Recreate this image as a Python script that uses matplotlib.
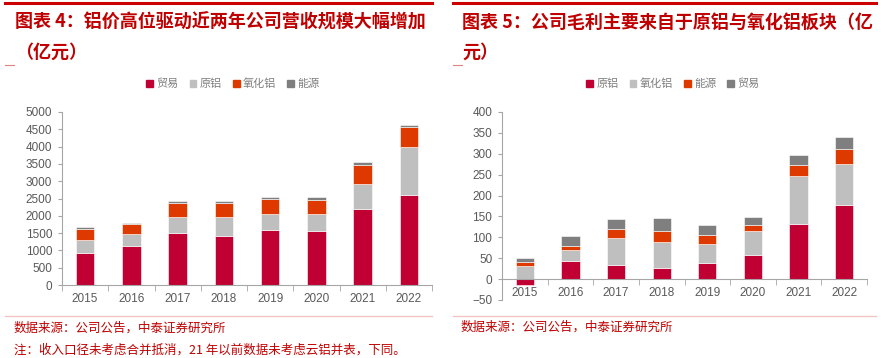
import numpy as np
import matplotlib
matplotlib.use("Agg")
import matplotlib.pyplot as plt
import matplotlib.patches as mpatches
from matplotlib.lines import Line2D

plt.rcParams['font.family'] = ['Noto Sans CJK SC', 'DejaVu Sans']

# --- data ---
years = ['2015', '2016', '2017', '2018', '2019', '2020', '2021', '2022']

# chart 4: revenue by segment (亿元)
rev_labels = ['贸易', '原铝', '氧化铝', '能源']
rev_trade = [936, 1139, 1506, 1429, 1593, 1554, 2210, 2597]
rev_alu = [367, 347, 473, 530, 463, 502, 705, 1380]
rev_alumina = [328, 271, 396, 416, 434, 415, 550, 579]
rev_energy = [49, 38, 57, 57, 58, 58, 87, 77]
rev_yticks = [0, 500, 1000, 1500, 2000, 2500, 3000, 3500, 4000, 4500, 5000]

# chart 5: gross profit by segment (亿元)
gp_labels = ['原铝', '氧化铝', '能源', '贸易']
gp_alu = [-13, 44, 33, 27, 39, 58, 133, 177]
gp_alumina = [31, 26, 66, 61, 46, 56, 113, 98]
gp_energy = [11, 10, 20, 26, 21, 16, 26, 36]
gp_trade = [8, 24, 24, 32, 24, 18, 26, 29]
gp_yticks = [-50, 0, 50, 100, 150, 200, 250, 300, 350, 400]

title_left = ['图表 4：铝价高位驱动近两年公司营收规模大幅增加', '（亿元）']
title_right = ['图表 5：公司毛利主要来自于原铝与氧化铝板块（亿', '元）']
source_txt = '数据来源：公司公告，中泰证券研究所'
note_txt = '注：收入口径未考虑合并抵消，21 年以前数据未考虑云铝并表，下同。'

RED = '#C00032'
GRAY = '#BFBFBF'
ORANGE = '#DE3A00'
DGRAY = '#7F7F7F'
TXT_RED = '#C00000'
TICK = '#595959'

W, H = 881, 358
fig = plt.figure(figsize=(W / 100, H / 100), dpi=100)


def px(x, y):
    return x / W, 1 - y / H


def style_axes(ax, yticks):
    for s in ['top', 'right']:
        ax.spines[s].set_visible(False)
    for s in ['left', 'bottom']:
        ax.spines[s].set_color('#A6A6A6')
        ax.spines[s].set_linewidth(0.8)
    ax.set_yticks(yticks)
    ax.set_xticks(range(len(years)))
    ax.set_xticklabels(years)
    ax.set_xticks(np.arange(-0.5, len(years), 1), minor=True)
    ax.tick_params(axis='x', which='major', length=0, pad=6)
    ax.tick_params(axis='x', which='minor', length=4, color='#A6A6A6', direction='out')
    ax.tick_params(axis='y', length=3, color='#A6A6A6', pad=4)
    ax.tick_params(labelcolor=TICK, labelsize=8.5)
    for lab in ax.get_xticklabels() + ax.get_yticklabels():
        lab.set_family('Liberation Sans')
    ax.set_xlim(-0.5, len(years) - 0.5)


x = np.arange(len(years))
bw = 0.4

# --- left chart ---
ax1 = fig.add_axes([62 / W, 1 - 285 / H, 370 / W, 173 / H])
b = np.zeros(len(years))
for vals, col in zip([rev_trade, rev_alu, rev_alumina, rev_energy], [RED, GRAY, ORANGE, DGRAY]):
    ax1.bar(x, vals, bw, bottom=b, color=col, edgecolor='white', linewidth=0.4)
    b = b + np.array(vals)
ax1.set_ylim(0, 5000)
style_axes(ax1, rev_yticks)

# --- right chart ---
ax2 = fig.add_axes([502 / W, 1 - 300 / H, 365 / W, 188 / H])
pos_b = np.zeros(len(years))
neg_b = np.zeros(len(years))
for vals, col in zip([gp_alu, gp_alumina, gp_energy, gp_trade], [RED, GRAY, ORANGE, DGRAY]):
    v = np.array(vals, dtype=float)
    bottoms = np.where(v >= 0, pos_b, neg_b)
    ax2.bar(x, v, bw, bottom=bottoms, color=col, edgecolor='white', linewidth=0.4)
    pos_b = pos_b + np.where(v >= 0, v, 0)
    neg_b = neg_b + np.where(v < 0, v, 0)
ax2.set_ylim(-50, 400)
ax2.spines['bottom'].set_position(('data', 0))
style_axes(ax2, gp_yticks)

# --- legends ---
for labels, cx in [(rev_labels, 233), (gp_labels, 673)]:
    handles = [mpatches.Patch(color=c, label=l) for c, l in zip([RED, GRAY, ORANGE, DGRAY], labels)]
    fig.legend(handles=handles, loc='center', bbox_to_anchor=px(cx, 84), ncol=4,
               frameon=False, handlelength=0.6, handleheight=0.6, handletextpad=0.3,
               columnspacing=1.0, labelcolor='#7F7F7F', prop={'size': 8})

# --- titles, rules and notes ---
for x0, x1 in [(5, 432), (453, 876)]:
    fig.add_artist(Line2D([x0 / W, x1 / W], [1 - 3 / H] * 2, color='#CC0000', lw=2.2))
    fig.add_artist(Line2D([x0 / W, x1 / W], [1 - 316 / H] * 2, color='#F2C4C4', lw=1.0))
    fig.add_artist(Line2D([x0 / W, (x0 + 9) / W], [1 - 65 / H] * 2, color='#E08080', lw=0.8))

for lines, tx in [(title_left, 15), (title_right, 462)]:
    fig.text(*px(tx, 22), lines[0], color=TXT_RED, fontsize=13, fontweight='bold', va='center')
    fig.text(*px(tx, 52), lines[1], color=TXT_RED, fontsize=13, fontweight='bold', va='center')

fig.text(*px(14, 328), source_txt, color=TXT_RED, fontsize=9.0, va='center')
fig.text(*px(14, 350), note_txt, color=TXT_RED, fontsize=9.0, va='center')
fig.text(*px(461, 327), source_txt, color=TXT_RED, fontsize=9.0, va='center')

fig.savefig('out.png', dpi=100)
